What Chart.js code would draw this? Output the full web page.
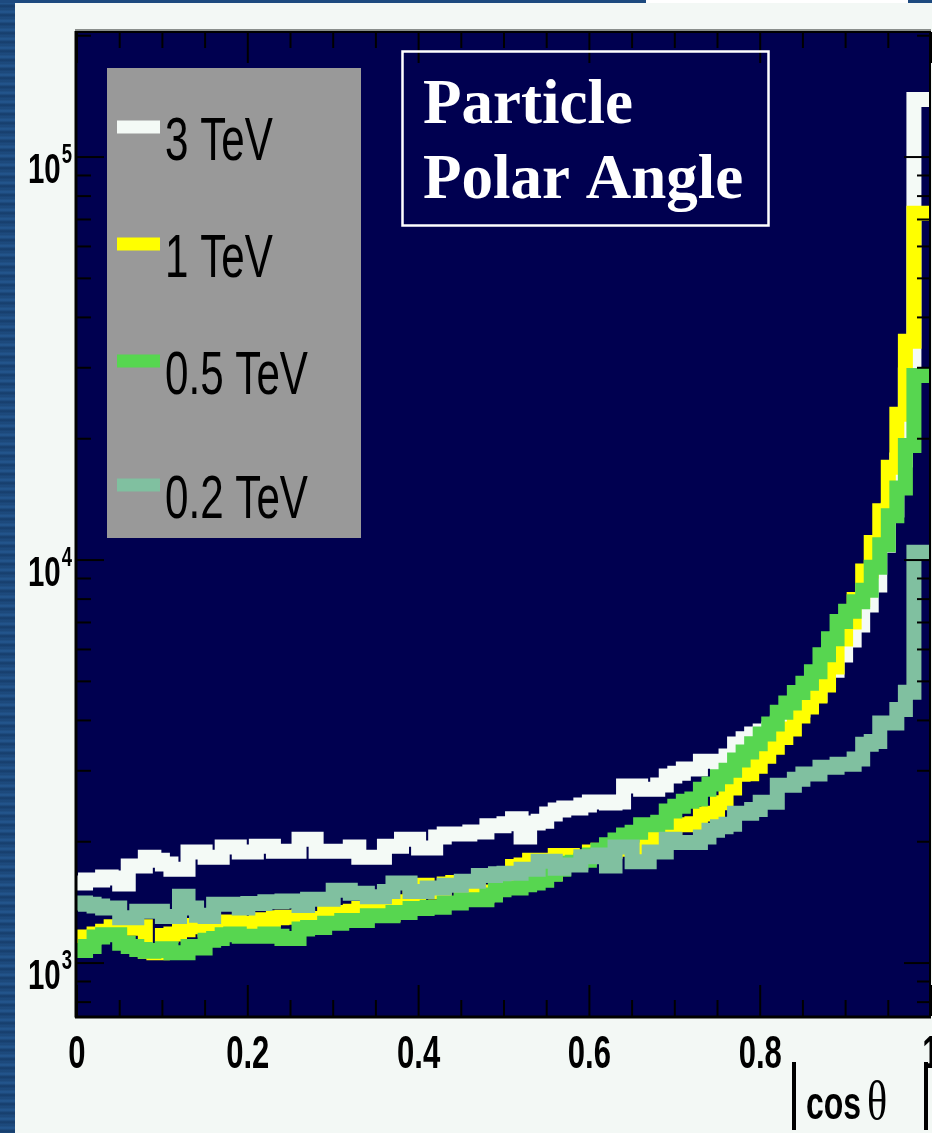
<!DOCTYPE html>
<html>
<head>
<meta charset="utf-8">
<script src="https://cdn.jsdelivr.net/npm/chart.js@4.4.0/dist/chart.umd.min.js"></script>
<style>
    html, body { margin: 0; padding: 0; }
    body { width: 932px; height: 1133px; overflow: hidden; background: #f3f8f5; position: relative; }
    #left_band { position: absolute; left: 0; top: 0; width: 15px; height: 1133px;
        background: repeating-linear-gradient(180deg, #1b4677 0px, #24578f 3px, #163d6b 6px, #1e4c80 9px); }
    #top_band { position: absolute; left: 0; top: 0; width: 932px; height: 3px; background: #1d4a7f; }
    #top_white { position: absolute; left: 646px; top: 0; width: 262px; height: 3px; background: #ffffff; }
    #myChart { position: absolute; left: 0; top: 0; }
</style>
</head>
<body>
<div id="left_band"></div>
<div id="top_band"></div>
<div id="top_white"></div>
<canvas id="myChart" width="932" height="1133"></canvas>
<script>
// entries per bin of |cos theta|, 100 bins from 0 to 1
const counts3TeV = [
    1580, 1580, 1607, 1607, 1635, 1625, 1570, 1740, 1740, 1830,
    1800, 1760, 1710, 1710, 1885, 1885, 1830, 1830, 1940, 1940,
    1885, 1885, 1950, 1950, 1895, 1895, 1895, 2030, 2030, 1895,
    1895, 1895, 1895, 1940, 1830, 1830, 1830, 1950, 1950, 2030,
    2030, 1930, 1930, 2055, 2090, 2090, 2090, 2115, 2115, 2190,
    2190, 2215, 2280, 2055, 2225, 2250, 2345, 2397, 2425, 2425,
    2467, 2510, 2510, 2495, 2510, 2750, 2750, 2700, 2700, 2765,
    2910, 2960, 3030, 3030, 3170, 3170, 3013, 3265, 3495, 3600,
    3700, 3765, 3810, 3940, 4125, 4245, 4370, 4625, 4980, 5330,
    5810, 6330, 6900, 7730, 8670, 10880, 13310, 17710, 28800, 139000
];
const counts1TeV = [
    1060, 1160, 1160, 1180, 1200, 1230, 1230, 1220, 1230, 1070,
    1060, 1170, 1180, 1210, 1240, 1230, 1210, 1240, 1265, 1265,
    1245, 1255, 1280, 1280, 1295, 1300, 1300, 1305, 1285, 1290,
    1335, 1335, 1335, 1345, 1365, 1365, 1380, 1320, 1400, 1420,
    1470, 1560, 1520, 1500, 1570, 1585, 1490, 1510, 1470, 1500,
    1645, 1645, 1735, 1750, 1800, 1800, 1665, 1850, 1850, 1820,
    1830, 1885, 1905, 1895, 1915, 1945, 1935, 1960, 2030, 2040,
    2145, 2205, 2205, 2215, 2345, 2355, 2500, 2720, 2940, 2950,
    3080, 3260, 3430, 3630, 3810, 4100, 4320, 4600, 4900, 5430,
    6370, 7020, 7980, 9400, 11050, 13250, 17000, 23000, 34900, 72500
];
const counts05TeV = [
    1075, 1075, 1100, 1160, 1175, 1175, 1120, 1100, 1080, 1070,
    1075, 1085, 1060, 1060, 1100, 1090, 1140, 1150, 1175, 1180,
    1165, 1165, 1165, 1180, 1165, 1150, 1150, 1215, 1225, 1225,
    1255, 1255, 1275, 1275, 1275, 1310, 1310, 1310, 1335, 1335,
    1365, 1365, 1375, 1375, 1410, 1410, 1435, 1435, 1435, 1475,
    1520, 1535, 1535, 1565, 1580, 1605, 1660, 1710, 1770, 1780,
    1800, 1855, 1905, 1965, 2020, 2080, 2110, 2205, 2205, 2235,
    2385, 2450, 2520, 2555, 2700, 2780, 2900, 3010, 3190, 3340,
    3500, 3700, 3920, 4190, 4420, 4690, 4950, 5280, 5820, 6380,
    7040, 7460, 7880, 8420, 9600, 10920, 12880, 15100, 19250, 28700
];
const counts02TeV = [
    1410, 1410, 1400, 1385, 1370, 1370, 1295, 1295, 1345, 1345,
    1345, 1305, 1305, 1465, 1370, 1315, 1305, 1400, 1400, 1400,
    1370, 1405, 1405, 1420, 1420, 1425, 1425, 1390, 1440, 1440,
    1440, 1515, 1515, 1490, 1490, 1460, 1460, 1505, 1580, 1580,
    1505, 1505, 1535, 1535, 1560, 1560, 1595, 1595, 1650, 1650,
    1665, 1670, 1670, 1710, 1710, 1790, 1790, 1720, 1750, 1750,
    1835, 1835, 1855, 1740, 1940, 1940, 1785, 1785, 1885, 1885,
    2030, 1990, 1990, 1990, 2055, 2135, 2180, 2210, 2355, 2355,
    2405, 2505, 2505, 2760, 2760, 2860, 2945, 2945, 3060, 3060,
    3115, 3115, 3210, 3490, 3545, 3940, 3940, 4260, 4700, 10450
];
const seriesNames = ["3 TeV", "1 TeV", "0.5 TeV", "0.2 TeV"];
const xTickLabels = ["0", "0.2", "0.4", "0.6", "0.8", "1"];
const yDecades = [3, 4, 5];
const titleLines = ["Particle", "Polar Angle"];

const lineColors = ['#f4faf6', '#ffff00', '#57d650', '#80c0a0'];
const plotBg = '#000050';

// histogram -> step points at left bin edges, plus closing point at x = 1
function toSteps(counts) {
    const n = counts.length;
    const pts = counts.map((v, i) => ({ x: i / n, y: v }));
    pts.push({ x: 1, y: counts[n - 1] });
    return pts;
}

function narrowText(ctx, text, x, y, font, sx, align) {
    ctx.save();
    ctx.font = font;
    const w = ctx.measureText(text).width * sx;
    let left = x;
    if (align == 'center') left = x - w / 2;
    if (align == 'right') left = x - w;
    ctx.translate(left, y);
    ctx.scale(sx, 1);
    ctx.textAlign = 'left';
    ctx.textBaseline = 'alphabetic';
    ctx.fillText(text, 0, 0);
    ctx.restore();
    return w;
}

function seg(ctx, x1, y1, x2, y2) {
    ctx.beginPath();
    ctx.moveTo(x1, y1);
    ctx.lineTo(x2, y2);
    ctx.stroke();
}

const rootStyle = {
    id: 'rootStyle',
    beforeDatasetsDraw(chart) {
        const ctx = chart.ctx, a = chart.chartArea;
        ctx.save();
        ctx.fillStyle = plotBg;
        ctx.fillRect(a.left, a.top, a.right - a.left, a.bottom - a.top);
        ctx.restore();
    },
    afterDatasetsDraw(chart) {
        const ctx = chart.ctx, a = chart.chartArea;
        const xs = chart.scales.x, ys = chart.scales.y;
        ctx.save();
        ctx.strokeStyle = '#000';
        ctx.lineWidth = 2;
        // x ticks, every 0.05, long every 0.2
        for (let k = 0; k <= 20; k++) {
            const px = xs.getPixelForValue(k / 20);
            const len = (k % 4 == 0) ? 31 : 16;
            seg(ctx, px, a.bottom, px, a.bottom - len);
            seg(ctx, px, a.top, px, a.top + len);
        }
        // log y ticks
        for (let d = 2; d <= 5; d++) {
            for (let m = 1; m <= 9; m++) {
                const v = m * Math.pow(10, d);
                if (v < ys.min || v > ys.max) continue;
                const py = ys.getPixelForValue(v);
                const len = (m == 1) ? 27 : 14;
                seg(ctx, a.left, py, a.left + len, py);
                seg(ctx, a.right, py, a.right - len, py);
            }
        }
        // frame
        ctx.strokeStyle = '#8a8f8c';
        ctx.lineWidth = 2;
        seg(ctx, a.left - 2, a.top - 2, a.right, a.top - 2);
        ctx.strokeStyle = '#000';
        ctx.lineWidth = 2;
        seg(ctx, a.left - 1, a.top, a.right, a.top);
        seg(ctx, a.right - 1, a.top, a.right - 1, a.bottom);
        ctx.lineWidth = 3;
        seg(ctx, a.left - 1, a.top - 1, a.left - 1, a.bottom + 1.5);
        seg(ctx, a.left - 2, a.bottom + 1, a.right, a.bottom + 1);
        ctx.restore();
    },
    afterDraw(chart) {
        const ctx = chart.ctx;
        const xs = chart.scales.x, ys = chart.scales.y;
        ctx.save();
        ctx.fillStyle = '#000';
        // x labels
        xTickLabels.forEach(t => {
            narrowText(ctx, t, xs.getPixelForValue(parseFloat(t)), 1068, 'bold 47px "Liberation Sans", Arial, sans-serif', 0.66, 'center');
        });
        // y labels 10^n
        yDecades.forEach(d => {
            const py = ys.getPixelForValue(Math.pow(10, d));
            const sw = narrowText(ctx, String(d), 72, py + 6, 'bold 28px "Liberation Sans", Arial, sans-serif', 0.66, 'right');
            narrowText(ctx, '10', 72 - sw - 1, py + 26, 'bold 42px "Liberation Sans", Arial, sans-serif', 0.7, 'right');
        });
        // axis title | cos theta |
        ctx.fillRect(792, 1062, 4, 68);
        ctx.fillRect(924, 1062, 4, 68);
        narrowText(ctx, 'cos', 806, 1119, 'bold 47px "Liberation Sans", Arial, sans-serif', 0.68, 'left');
        narrowText(ctx, '\u03b8', 867, 1119, '54px "Liberation Serif", serif', 0.78, 'left');

        // legend
        ctx.fillStyle = '#999999';
        ctx.fillRect(107, 68, 254, 470);
        const legendY = [127, 244, 361, 485];
        chart.data.datasets.forEach((ds, i) => {
            ctx.strokeStyle = ds.borderColor;
            ctx.lineWidth = 13;
            seg(ctx, 117, legendY[i], 160, legendY[i]);
            ctx.fillStyle = '#000';
            narrowText(ctx, ds.label, 165, legendY[i] + 33, '62px "Liberation Sans", Arial, sans-serif', 0.68, 'left');
        });

        // title box
        ctx.strokeStyle = '#ffffff';
        ctx.lineWidth = 2.5;
        ctx.strokeRect(402.5, 51.5, 366, 174);
        ctx.fillStyle = '#ffffff';
        ctx.font = 'bold 63px "Liberation Serif", "Times New Roman", serif';
        ctx.textAlign = 'left';
        ctx.textBaseline = 'alphabetic';
        ctx.fillText(titleLines[0], 423, 123);
        ctx.fillText(titleLines[1], 423, 198);
        ctx.restore();
    }
};

const allCounts = [counts3TeV, counts1TeV, counts05TeV, counts02TeV];
const datasets = allCounts.map((c, i) => ({
    label: seriesNames[i],
    data: toSteps(c),
    borderColor: lineColors[i],
    borderWidth: 15,
    stepped: 'after',
    fill: false,
    pointRadius: 0,
    borderJoinStyle: 'miter',
    borderCapStyle: 'butt',
    order: allCounts.length - 1 - i
}));

const ctx = document.getElementById('myChart').getContext('2d');
const myChart = new Chart(ctx, {
    type: 'line',
    data: { datasets: datasets },
    options: {
        responsive: false,
        animation: false,
        devicePixelRatio: 1,
        layout: { padding: { left: 77, top: 32, right: 1, bottom: 117 } },
        scales: {
            x: { type: 'linear', min: 0, max: 1, display: false },
            y: { type: 'logarithmic', min: 739, max: 204300, display: false }
        },
        plugins: {
            legend: { display: false },
            tooltip: { enabled: false }
        }
    },
    plugins: [rootStyle]
});
</script>
</body>
</html>
